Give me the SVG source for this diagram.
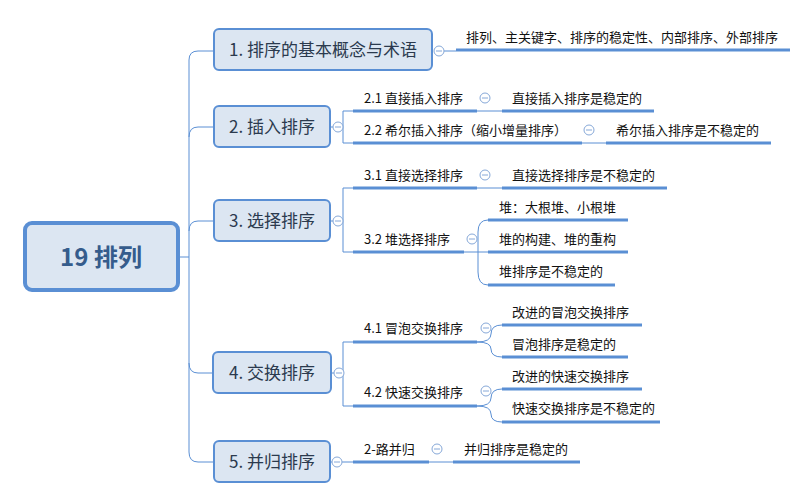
<svg xmlns="http://www.w3.org/2000/svg" width="809" height="499" viewBox="0 0 809 499">
<style>
.bg{fill:#ffffff}
.node rect{fill:#dce6f2;stroke:#5a8fd4;stroke-width:2}
.root rect{fill:#dce6f2;stroke:#5a8fd4;stroke-width:4}
.nt{font-family:"Noto Sans CJK SC","Liberation Sans",sans-serif;font-size:17px;fill:#2b3a4e;text-anchor:middle}
.rt{font-family:"Noto Sans CJK SC","Liberation Sans",sans-serif;font-size:24px;font-weight:bold;fill:#355c8c;text-anchor:middle}
.lt{font-family:"Noto Sans CJK SC","Liberation Sans",sans-serif;font-size:13px;fill:#111111}
.thin{fill:none;stroke:#5a8fd4;stroke-width:1}
.thick{fill:none;stroke:#5a8fd4;stroke-width:3}
</style>
<defs>
<g id="minus"><circle cx="0" cy="0" r="5" fill="#ffffff" stroke="#86a8d8" stroke-width="1"/><line x1="-3" y1="0" x2="3" y2="0" stroke="#86a8d8" stroke-width="1"/></g>
</defs>
<rect class="bg" x="0" y="0" width="809" height="499"/>
<g id="connectors">
<path class="thin" d="M180,257 H189 M189,60 V452 M189,60 Q189,51 198,51 H214 M189,137 Q189,127 198,127 H214 M189,231 Q189,221 198,221 H214 M189,363 Q189,373 198,373 H213 M189,452 Q189,462 198,462 H214"/>
<path class="thin" d="M444,51 H456"/>
<path class="thin" d="M330,127 H343 M343,111 V143 M343,111 H353 M343,143 H353 M477,111 H502 M582,143 H606"/>
<path class="thin" d="M330,221 H343 M343,188 V252 M343,188 H353 M343,252 H353 M477,188 H502 M464,252 H488 M488,220 Q478,220 478,232 V272 Q478,285 488,285"/>
<path class="thin" d="M331,373 H343 M343,342 V406 M343,342 H353 M343,406 H353 M477,342 Q491,342 491,334 Q491,325 502,325 M477,342 Q491,342 491,349 Q491,357 502,357 M477,406 Q491,406 491,398 Q491,389 502,389 M477,406 Q491,406 491,414 Q491,422 502,422"/>
<path class="thin" d="M330,462 H353 M429,462 H453"/>
<path class="thick" d="M456,50 H790 M353,111 H477 M502,111 H654 M353,143 H582 M606,143 H771 M353,188 H477 M502,188 H667 M353,252 H464 M488,220 H628 M488,252 H628 M488,285 H615 M353,342 H477 M502,325 H642 M502,357 H628 M353,406 H477 M502,389 H642 M502,422 H660 M353,462 H429 M453,462 H580"/>
</g>
<g id="root" class="root"><rect x="25" y="223" width="153" height="67" rx="7"/><text class="rt" x="101" y="266">19 排列</text></g>
<g id="n1" class="node"><rect x="214" y="29" width="218" height="41" rx="5"/><text class="nt" x="323" y="56">1. 排序的基本概念与术语</text></g>
<g id="n2" class="node"><rect x="214" y="106" width="116" height="41" rx="5"/><text class="nt" x="272" y="133">2. 插入排序</text></g>
<g id="n3" class="node"><rect x="214" y="200" width="116" height="41" rx="5"/><text class="nt" x="272" y="227">3. 选择排序</text></g>
<g id="n4" class="node"><rect x="213" y="352" width="118" height="41" rx="5"/><text class="nt" x="272" y="379">4. 交换排序</text></g>
<g id="n5" class="node"><rect x="214" y="441" width="116" height="41" rx="5"/><text class="nt" x="272" y="468">5. 并归排序</text></g>
<g id="n1a"><text class="lt" x="466" y="42">排列、主关键字、排序的稳定性、内部排序、外部排序</text></g>
<g id="n21"><text class="lt" x="364" y="103">2.1 直接插入排序</text></g>
<g id="n21a"><text class="lt" x="512" y="103">直接插入排序是稳定的</text></g>
<g id="n22"><text class="lt" x="364" y="135">2.2 希尔插入排序（缩小增量排序）</text></g>
<g id="n22a"><text class="lt" x="616" y="135">希尔插入排序是不稳定的</text></g>
<g id="n31"><text class="lt" x="364" y="180">3.1 直接选择排序</text></g>
<g id="n31a"><text class="lt" x="512" y="180">直接选择排序是不稳定的</text></g>
<g id="n32"><text class="lt" x="364" y="244">3.2 堆选择排序</text></g>
<g id="n32a"><text class="lt" x="499" y="212">堆：大根堆、小根堆</text></g>
<g id="n32b"><text class="lt" x="499" y="244">堆的构建、堆的重构</text></g>
<g id="n32c"><text class="lt" x="499" y="276">堆排序是不稳定的</text></g>
<g id="n41"><text class="lt" x="364" y="333">4.1 冒泡交换排序</text></g>
<g id="n41a"><text class="lt" x="512" y="317">改进的冒泡交换排序</text></g>
<g id="n41b"><text class="lt" x="512" y="349">冒泡排序是稳定的</text></g>
<g id="n42"><text class="lt" x="364" y="397">4.2 快速交换排序</text></g>
<g id="n42a"><text class="lt" x="512" y="381">改进的快速交换排序</text></g>
<g id="n42b"><text class="lt" x="512" y="413">快速交换排序是不稳定的</text></g>
<g id="n51"><text class="lt" x="364" y="454">2-路并归</text></g>
<g id="n51a"><text class="lt" x="464" y="454">并归排序是稳定的</text></g>
<g id="collapse">
<use href="#minus" x="439" y="51"/>
<use href="#minus" x="338" y="127"/>
<use href="#minus" x="485" y="98"/>
<use href="#minus" x="589" y="130"/>
<use href="#minus" x="338" y="221"/>
<use href="#minus" x="485" y="175"/>
<use href="#minus" x="472" y="239"/>
<use href="#minus" x="339" y="373"/>
<use href="#minus" x="486" y="328"/>
<use href="#minus" x="486" y="391"/>
<use href="#minus" x="337" y="462"/>
<use href="#minus" x="437" y="449"/>
</g>
</svg>
